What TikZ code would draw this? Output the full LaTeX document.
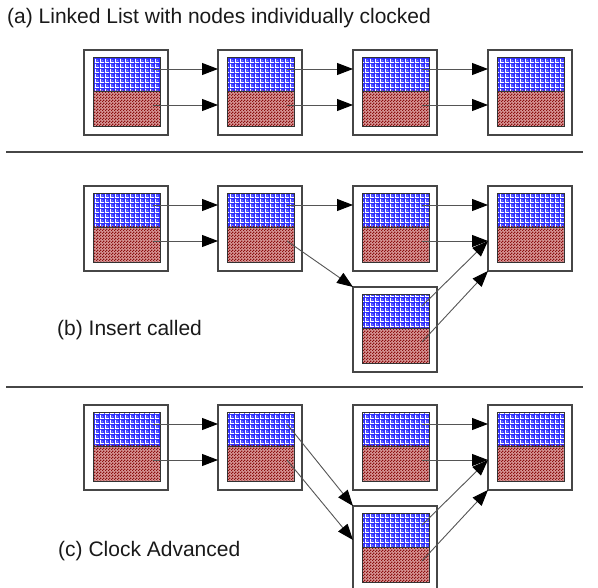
\documentclass[tikz,border=0pt]{standalone}
\usepackage{fontspec}
\setmainfont{Liberation Sans}
\usetikzlibrary{arrows.meta,calc,patterns.meta}

\definecolor{bluebase}{RGB}{45,45,255}
\definecolor{redcheck}{RGB}{140,15,15}
\definecolor{pinkbase}{RGB}{215,150,150}
\definecolor{framegray}{RGB}{70,70,70}
\definecolor{linkgray}{RGB}{85,85,85}

% white grid over the blue half
\tikzdeclarepattern{
  name=bluegrid,
  type=uncolored,
  bounding box={(0pt,0pt) and (4.5pt,4.5pt)},
  tile size={(4.5pt,4.5pt)},
  code={
    \fill (0pt,0pt) rectangle (4.5pt,1.1pt);
    \fill (0pt,0pt) rectangle (1.1pt,4.5pt);
    \fill (2.5pt,2.5pt) rectangle (3.3pt,3.3pt);
  }
}
% fine checks over the pink half
\tikzdeclarepattern{
  name=redchecks,
  type=uncolored,
  bounding box={(0pt,0pt) and (3pt,3pt)},
  tile size={(3pt,3pt)},
  code={
    \fill (0pt,0pt) rectangle (1.5pt,1.5pt);
    \fill (1.5pt,1.5pt) rectangle (3pt,3pt);
  }
}

\tikzset{
  cellframe/.style={draw=framegray, line width=1.2pt, fill=white,
    minimum width=84pt, minimum height=85pt, inner sep=0pt, outer sep=0pt},
  innerline/.style={draw=black!80, line width=0.8pt},
  link/.style={draw=linkgray, line width=0.9pt,
    -{Triangle[length=16pt,width=12pt,color=black,fill=black]}},
  caption/.style={font=\fontsize{21}{25}\selectfont, text=black!90,
    inner sep=0pt, anchor=base west},
  rule/.style={draw=framegray, line width=1.5pt},
}

% one list element: frame, blue (data) half, red (link) half
\newcommand\listcell[3]{%
  \node[cellframe, anchor=north west] (#1) at (#2,#3) {};
  \coordinate (#1-tl) at ($(#1.north west)+(9,7)$);
  \coordinate (#1-mr) at ($(#1.north west)+(76,41)$);
  \coordinate (#1-ml) at ($(#1.north west)+(9,41)$);
  \coordinate (#1-br) at ($(#1.north west)+(76,76)$);
  \fill[bluebase] (#1-tl) rectangle (#1-mr);
  \fill[pattern=bluegrid, pattern color=white] (#1-tl) rectangle (#1-mr);
  \fill[pinkbase] (#1-ml) rectangle (#1-br);
  \fill[pattern=redchecks, pattern color=redcheck] (#1-ml) rectangle (#1-br);
  \draw[innerline] (#1-tl) rectangle (#1-br) (#1-ml) -- (#1-mr);
  \coordinate (#1-u) at ($(#1.north west)+(69,19)$);
  \coordinate (#1-l) at ($(#1.north west)+(69,55)$);
}

\begin{document}
\begin{tikzpicture}[x=1pt, y=-1pt]
\useasboundingbox (0,0) rectangle (598,588);
\clip (0,0) rectangle (598,588);

% ---------- (a) ----------
\node[caption] (ta) at (7,24) {(a) Linked List with nodes individually clocked};
\listcell{a1}{84}{50}
\listcell{a2}{218}{50}
\listcell{a3}{353}{50}
\listcell{a4}{488}{50}
\foreach \s/\t in {a1/a2, a2/a3, a3/a4} {
  \draw[link] (\s-u) -- (\s-u -| \t.west);
  \draw[link] (\s-l) -- (\s-l -| \t.west);
}

\draw[rule] (6,152) -- (583,152);

% ---------- (b) ----------
\listcell{b1}{84}{186}
\listcell{b2}{218}{186}
\listcell{b3}{353}{186}
\listcell{b4}{488}{186}
\listcell{b5}{353}{287}
\node[caption] (tb) at (57,336) {(b) Insert called};
\draw[link] (b1-u) -- (b1-u -| b2.west);
\draw[link] (b1-l) -- (b1-l -| b2.west);
\draw[link] (b2-u) -- (b2-u -| b3.west);
\draw[link] (b2-l) -- (b5.north west);
\draw[link] (b3-u) -- (b3-u -| b4.west);
\draw[link] (b3-l) -- (b3-l -| b4.west);
\draw[link] (b5-u) -- (b4.west |- b4-l);
\draw[link] (b5-l) -- (b4.south west);

\draw[rule] (6,387) -- (583,387);

% ---------- (c) ----------
\listcell{c1}{84}{405}
\listcell{c2}{218}{405}
\listcell{c3}{353}{405}
\listcell{c4}{488}{405}
\listcell{c5}{353}{506}
\node[caption] (tc) at (58,556) {(c) Clock Advanced};
\draw[link] (c1-u) -- (c1-u -| c2.west);
\draw[link] (c1-l) -- (c1-l -| c2.west);
\draw[link] (c2-u) -- (c5.north west);
\draw[link] (c2-l) -- ($(c5.north west)!0.4!(c5.south west)$);
\draw[link] (c3-u) -- (c3-u -| c4.west);
\draw[link] (c3-l) -- (c3-l -| c4.west);
\draw[link] (c5-u) -- (c4.west |- c4-l);
\draw[link] (c5-l) -- (c4.south west);
\end{tikzpicture}
\end{document}
